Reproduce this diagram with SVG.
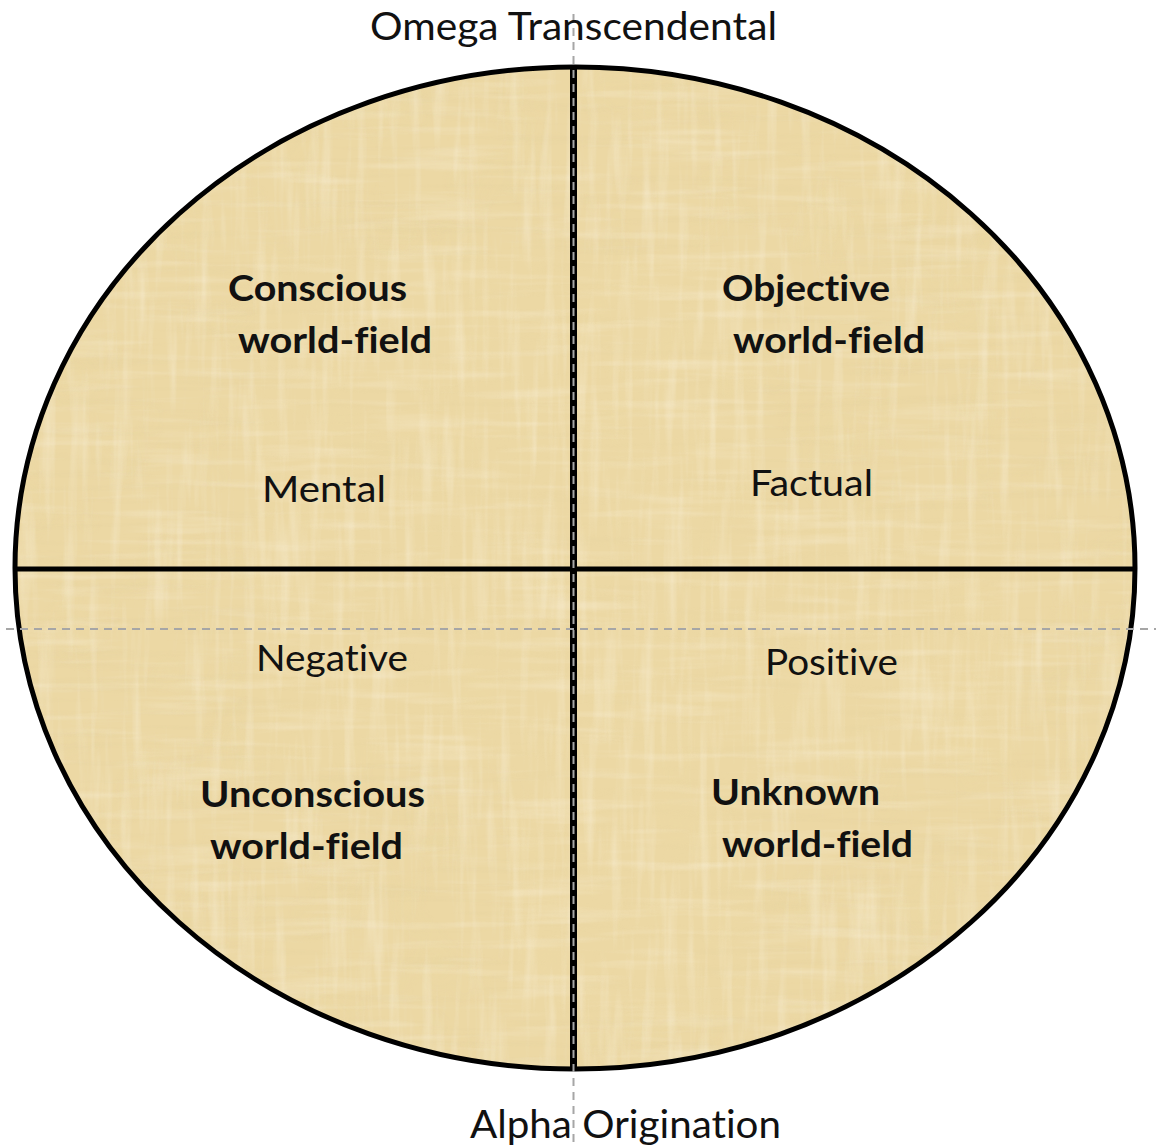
<svg xmlns="http://www.w3.org/2000/svg" width="1156" height="1148" viewBox="0 0 1156 1148">
  <style>
    .lbl { font-family: "Lato", "Open Sans", "Liberation Sans", sans-serif; fill: #111; font-variant-ligatures: none; }
    .bold { font-size: 37px; font-weight: bold; }
    .reg { font-size: 37px; font-weight: normal; }
    .axis { font-family: "Lato", "Open Sans", "Liberation Sans", sans-serif; font-size: 38px; fill: #111; font-variant-ligatures: none; }
    .guide { stroke: #a6a6a6; stroke-width: 2; stroke-dasharray: 8 6; fill: none; }
    .divider { stroke: #000; fill: none; }
  </style>
  <defs>
    <clipPath id="discClip">
      <ellipse cx="575" cy="568" rx="560" ry="501"/>
    </clipPath>
    <!-- vertical papyrus fibres (light) -->
    <filter id="fibresV" x="0" y="0" width="100%" height="100%">
      <feTurbulence type="fractalNoise" baseFrequency="0.09 0.008" numOctaves="3" seed="4" result="n"/>
      <feColorMatrix in="n" type="matrix" values="0 0 0 0 1  0 0 0 0 0.97  0 0 0 0 0.88  1.6 0 0 0 -0.75"/>
    </filter>
    <!-- horizontal cross fibres (light) -->
    <filter id="fibresX" x="0" y="0" width="100%" height="100%">
      <feTurbulence type="fractalNoise" baseFrequency="0.008 0.1" numOctaves="3" seed="13" result="n"/>
      <feColorMatrix in="n" type="matrix" values="0 0 0 0 1  0 0 0 0 0.96  0 0 0 0 0.86  1.6 0 0 0 -0.78"/>
    </filter>
    <!-- darker cross fibres -->
    <filter id="fibresH" x="0" y="0" width="100%" height="100%">
      <feTurbulence type="fractalNoise" baseFrequency="0.006 0.12" numOctaves="3" seed="9" result="n"/>
      <feColorMatrix in="n" type="matrix" values="0 0 0 0 0.72  0 0 0 0 0.6  0 0 0 0 0.32  1.2 0 0 0 -0.62"/>
    </filter>
    <filter id="blotch" x="0" y="0" width="100%" height="100%">
      <feTurbulence type="fractalNoise" baseFrequency="0.02 0.015" numOctaves="2" seed="2" result="n"/>
      <feColorMatrix in="n" type="matrix" values="0 0 0 0 0.85  0 0 0 0 0.72  0 0 0 0 0.38  1.0 0 0 0 -0.5"/>
    </filter>
  </defs>

  <rect width="1156" height="1148" fill="#ffffff"/>

  <!-- papyrus disc -->
  <g id="disc">
    <g clip-path="url(#discClip)">
      <rect x="0" y="0" width="1156" height="1148" fill="#ECD8A4"/>
      <rect x="0" y="0" width="1156" height="1148" filter="url(#blotch)" opacity="0.4"/>
      <rect x="0" y="0" width="1156" height="1148" filter="url(#fibresH)" opacity="0.25"/>
      <rect x="0" y="0" width="1156" height="1148" filter="url(#fibresX)" opacity="0.35"/>
      <rect x="0" y="0" width="1156" height="1148" filter="url(#fibresV)" opacity="0.4"/>
    </g>
    <ellipse cx="575" cy="568" rx="560" ry="501" fill="none" stroke="#000" stroke-width="5"/>
  </g>

  <!-- axes and guides -->
  <g id="connectors">
    <line class="divider" x1="15" y1="569" x2="1135" y2="569" stroke-width="5"/>
    <line class="divider" x1="573.5" y1="67" x2="573.5" y2="1069" stroke-width="7"/>
    <line class="guide" x1="573.5" y1="14" x2="573.5" y2="1148"/>
    <line class="guide" x1="6" y1="629" x2="1156" y2="629"/>
  </g>

  <g id="omega">
    <text class="axis" x="370" y="40" textLength="407" lengthAdjust="spacingAndGlyphs">Omega Transcendental</text>
  </g>
  <g id="alpha">
    <text class="axis" x="470" y="1138" textLength="311" lengthAdjust="spacingAndGlyphs">Alpha Origination</text>
  </g>

  <g id="conscious">
    <text class="lbl bold" x="228" y="301" textLength="179" lengthAdjust="spacingAndGlyphs">Conscious</text>
    <text class="lbl bold" x="238" y="353" textLength="194" lengthAdjust="spacingAndGlyphs">world-field</text>
  </g>
  <g id="objective">
    <text class="lbl bold" x="722" y="301" textLength="168" lengthAdjust="spacingAndGlyphs">Objective</text>
    <text class="lbl bold" x="733" y="353" textLength="192" lengthAdjust="spacingAndGlyphs">world-field</text>
  </g>
  <g id="unconscious">
    <text class="lbl bold" x="200" y="807" textLength="225" lengthAdjust="spacingAndGlyphs">Unconscious</text>
    <text class="lbl bold" x="210" y="859" textLength="193" lengthAdjust="spacingAndGlyphs">world-field</text>
  </g>
  <g id="unknown">
    <text class="lbl bold" x="711" y="805" textLength="169" lengthAdjust="spacingAndGlyphs">Unknown</text>
    <text class="lbl bold" x="722" y="857" textLength="191" lengthAdjust="spacingAndGlyphs">world-field</text>
  </g>

  <g id="mental">
    <text class="lbl reg" x="262" y="502" textLength="124" lengthAdjust="spacingAndGlyphs">Mental</text>
  </g>
  <g id="factual">
    <text class="lbl reg" x="750" y="496" textLength="123" lengthAdjust="spacingAndGlyphs">Factual</text>
  </g>
  <g id="negative">
    <text class="lbl reg" x="256" y="671" textLength="152" lengthAdjust="spacingAndGlyphs">Negative</text>
  </g>
  <g id="positive">
    <text class="lbl reg" x="765" y="675" textLength="133" lengthAdjust="spacingAndGlyphs">Positive</text>
  </g>
</svg>
